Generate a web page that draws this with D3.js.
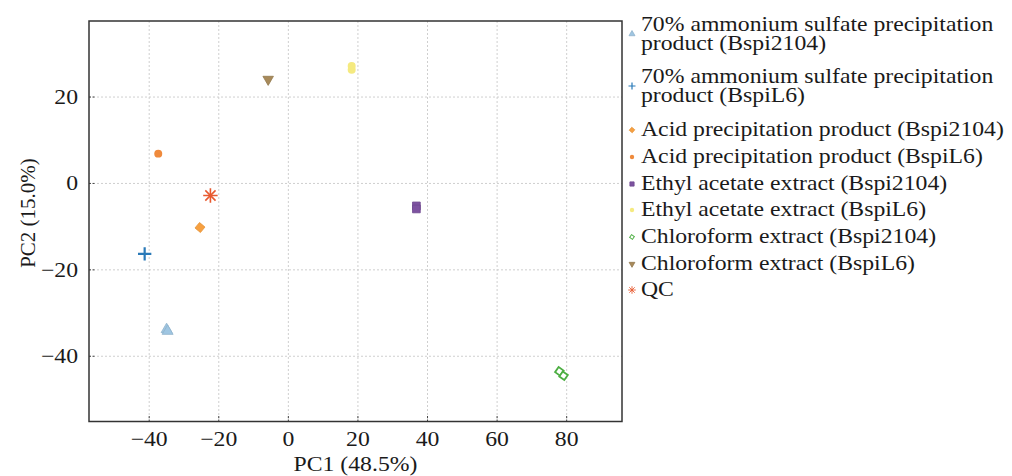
<!DOCTYPE html>
<html>
<head>
<meta charset="utf-8">
<script src="https://cdn.jsdelivr.net/npm/d3@7"></script>
<style>
  body { margin: 0; background: #fff; }
  svg text { font-family: "Liberation Serif", Tinos, "Times New Roman", Times, serif; fill: #1a1a1a; }
</style>
</head>
<body>
<div class="wrapper"></div>
<script>
// groups, in legend order
var groups = [
  "70% ammonium sulfate precipitation|product (Bspi2104)",
  "70% ammonium sulfate precipitation|product (BspiL6)",
  "Acid precipitation product (Bspi2104)",
  "Acid precipitation product (BspiL6)",
  "Ethyl acetate extract (Bspi2104)",
  "Ethyl acetate extract (BspiL6)",
  "Chloroform extract (Bspi2104)",
  "Chloroform extract (BspiL6)",
  "QC"
];
var colors = ["#9fc6e2", "#2a7ab8", "#f7a040", "#ef8a3c", "#7d52a0", "#f5ea80", "#4cae42", "#a88a5a", "#e85a30"];
var shapes = ["triUp", "plus", "diamond", "circle", "square", "circle", "openDiamond", "triDown", "star"];

// sample scores (group index, PC1, PC2)
var pc1 = [-35.0, -34.7, -41.3, -25.4, -37.4, 36.8, 36.8, 18.2, 18.2, 77.9, 79.1, -5.8, -22.4];
var pc2 = [-33.8, -34.2, -16.3, -10.2, 6.9, -5.2, -5.9, 27.2, 26.3, -43.5, -44.5, 24.1, -2.8];
var grp = [0, 0, 1, 2, 3, 4, 4, 5, 5, 6, 6, 7, 8];

var xTicks = [-40, -20, 0, 20, 40, 60, 80];
var yTicks = [-40, -20, 0, 20];

var width = 1012, height = 476;
var pLeft = 89, pRight = 622, pTop = 21, pBottom = 421.5;
var stretch = 1.13;

var x = d3.scaleLinear().domain([-57.3, 95.9]).range([pLeft, pRight]);
var y = d3.scaleLinear().domain([-55.1, 37.6]).range([pBottom, pTop]);
var fmt = function(d) { return d < 0 ? "\u2212" + Math.abs(d) : String(d); };

var svg = d3.select(".wrapper").append("svg")
    .attr("width", width)
    .attr("height", height)
    .attr("font-family", "Liberation Serif, serif");

// grid
svg.append("g").selectAll("line").data(xTicks).enter().append("line")
    .attr("x1", function(d) { return x(d); }).attr("x2", function(d) { return x(d); })
    .attr("y1", pTop).attr("y2", pBottom)
    .attr("stroke", "#cfcfcf").attr("stroke-dasharray", "2,2");
svg.append("g").selectAll("line").data(yTicks).enter().append("line")
    .attr("y1", function(d) { return y(d); }).attr("y2", function(d) { return y(d); })
    .attr("x1", pLeft).attr("x2", pRight)
    .attr("stroke", "#cfcfcf").attr("stroke-dasharray", "2,2");

// ticks (inner)
svg.append("g").selectAll("line").data(xTicks).enter().append("line")
    .attr("x1", function(d) { return x(d); }).attr("x2", function(d) { return x(d); })
    .attr("y1", pBottom).attr("y2", pBottom - 6)
    .attr("stroke", "#444").attr("stroke-dasharray", "2,1.5");
svg.append("g").selectAll("line").data(yTicks).enter().append("line")
    .attr("y1", function(d) { return y(d); }).attr("y2", function(d) { return y(d); })
    .attr("x1", pLeft).attr("x2", pLeft + 6)
    .attr("stroke", "#444").attr("stroke-dasharray", "2,1.5");

// frame
svg.append("rect")
    .attr("x", pLeft).attr("y", pTop)
    .attr("width", pRight - pLeft).attr("height", pBottom - pTop)
    .attr("fill", "none").attr("stroke", "#333").attr("stroke-width", 1.5);

// tick labels
svg.append("g").selectAll("text").data(xTicks).enter().append("text")
    .attr("transform", function(d) { return "translate(" + x(d) + ",446) scale(" + stretch + ",1)"; })
    .attr("text-anchor", "middle")
    .style("font-size", "21px")
    .text(fmt);
svg.append("g").selectAll("text").data(yTicks).enter().append("text")
    .attr("transform", function(d) { return "translate(78," + (y(d) + 7) + ") scale(" + stretch + ",1)"; })
    .attr("text-anchor", "end")
    .style("font-size", "21px")
    .text(fmt);

// axis titles
svg.append("text")
    .attr("transform", "translate(" + ((pLeft + pRight) / 2) + ",471) scale(" + stretch + ",1)")
    .attr("text-anchor", "middle")
    .style("font-size", "21px")
    .text("PC1 (48.5%)");
svg.append("text")
    .attr("transform", "translate(35,213) rotate(-90)")
    .attr("text-anchor", "middle")
    .style("font-size", "21px")
    .text("PC2 (15.0%)");

// marker drawing
function marker(g, shape, color, s) {
  if (shape === "triUp") {
    g.append("path").attr("d", d3.symbol(d3.symbolTriangle, 52 * s)())
      .attr("fill", color).attr("stroke", d3.color(color).darker(0.3)).attr("stroke-width", 0.8);
  } else if (shape === "triDown") {
    g.append("path").attr("d", d3.symbol(d3.symbolTriangle, 48 * s)())
      .attr("transform", "rotate(180)")
      .attr("fill", color).attr("stroke", d3.color(color).darker(0.4)).attr("stroke-width", 0.8);
  } else if (shape === "plus") {
    g.append("path").attr("d", d3.symbol(d3.symbolPlus, 60 * s)())
      .attr("fill", "none").attr("stroke", color).attr("stroke-width", 2.2 * Math.sqrt(s));
  } else if (shape === "diamond") {
    g.append("path").attr("d", d3.symbol(d3.symbolSquare, 50 * s)())
      .attr("transform", "rotate(40)")
      .attr("fill", color).attr("stroke", d3.color(color).darker(0.2)).attr("stroke-width", 0.8);
  } else if (shape === "openDiamond") {
    g.append("path").attr("d", d3.symbol(d3.symbolSquare, 38 * s)())
      .attr("transform", "rotate(35)")
      .attr("fill", "#fff").attr("stroke", color).attr("stroke-width", 1.8 * Math.sqrt(s));
  } else if (shape === "circle") {
    g.append("path").attr("d", d3.symbol(d3.symbolCircle, 50 * s)())
      .attr("fill", color);
  } else if (shape === "square") {
    g.append("path").attr("d", d3.symbol(d3.symbolSquare, 60 * s)())
      .attr("fill", color).attr("stroke", d3.color(color).darker(0.3)).attr("stroke-width", 0.8);
  } else if (shape === "star") {
    g.append("path").attr("d", d3.symbol(d3.symbolPlus, 70 * s)())
      .attr("fill", "none").attr("stroke", color).attr("stroke-width", 1.6 * Math.sqrt(s));
    g.append("path").attr("d", d3.symbol(d3.symbolTimes, 70 * s)())
      .attr("fill", "none").attr("stroke", color).attr("stroke-width", 1.6 * Math.sqrt(s));
  }
}

// points
var pts = svg.append("g");
pc1.forEach(function(v, i) {
  var g = pts.append("g").attr("transform", "translate(" + x(v) + "," + y(pc2[i]) + ")");
  marker(g, shapes[grp[i]], colors[grp[i]], 1);
});

// legend
var legTop = [24, 76, 129, 156, 183, 209, 236, 263, 289];
var leg = svg.append("g");
groups.forEach(function(name, i) {
  var lines = name.split("|");
  var my = lines.length > 1 ? legTop[i] + 10 : legTop[i] + 1;
  var g = leg.append("g").attr("transform", "translate(632," + my + ")");
  marker(g, shapes[i], colors[i], 0.3);
  lines.forEach(function(t, j) {
    leg.append("text")
      .attr("transform", "translate(641," + (legTop[i] + 7 + j * 19) + ") scale(" + stretch + ",1)")
      .style("font-size", "21px")
      .text(t);
  });
});
</script>
</body>
</html>
